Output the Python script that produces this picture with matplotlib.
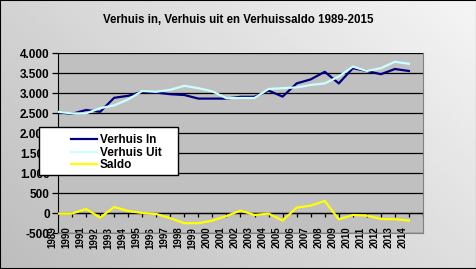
import numpy as np
import matplotlib
matplotlib.use("Agg")
import matplotlib.pyplot as plt
from matplotlib.ticker import FuncFormatter, MultipleLocator
from matplotlib.transforms import ScaledTranslation
from matplotlib.patches import Rectangle

years = [str(y) for y in range(1989, 2015)]
verhuis_in = [2520, 2480, 2575, 2530, 2880, 2930, 3030, 3010, 2970, 2950, 2860, 2860,
              2860, 2905, 2905, 3060, 2910, 3240, 3340, 3530, 3240, 3620, 3550, 3470,
              3600, 3550]
verhuis_uit = [2530, 2490, 2490, 2620, 2690, 2840, 3050, 3030, 3080, 3180, 3120, 3040,
               2870, 2875, 2875, 3100, 3120, 3140, 3200, 3240, 3410, 3660, 3550, 3620,
               3780, 3730]
saldo = [-15, -15, 100, -115, 150, 50, 0, -25, -130, -255, -255, -190, -75, 60, -50,
         -15, -190, 135, 185, 300, -160, -50, -65, -150, -155, -190]

W, H = 477, 269
fig = plt.figure(figsize=(W / 100, H / 100), dpi=100)
plt.rcParams['font.family'] = ['Liberation Sans', 'DejaVu Sans']

# background gradient
bg = fig.add_axes([0, 0, 1, 1], zorder=-10)
yy, xx = np.mgrid[0:1:100j, 0:1:100j]
g = 0.74 + 0.22 * (xx * 0.6 + (1 - yy) * 0.4)
bg.imshow(g, cmap='gray', vmin=0, vmax=1, aspect='auto', extent=[0, 1, 0, 1], origin='upper')
bg.set_xlim(0, 1); bg.set_ylim(0, 1)
bg.axis('off')
fig.patches.append(Rectangle((0, 0), 1, 1, transform=fig.transFigure, fill=False,
                             edgecolor='black', linewidth=1.5))

ax = fig.add_axes([58 / W, 1 - 233 / H, 365 / W, 180 / H])
ax.set_facecolor('#C0C0C0')
x = np.arange(len(years))
ax.plot(x, verhuis_in, color='#000080', lw=1.6, label='Verhuis In', zorder=3)
ax.plot(x, verhuis_uit, color='#CCFFFF', lw=1.6, label='Verhuis Uit', zorder=3)
ax.plot(x, saldo, color='#FFFF00', lw=1.6, label='Saldo', zorder=3)

ax.set_xlim(0, len(years))
ax.set_ylim(-500, 4000)
ax.yaxis.set_major_locator(MultipleLocator(500))
ax.yaxis.set_major_formatter(FuncFormatter(lambda v, p: f"{int(v):,}".replace(",", ".")))
ax.grid(axis='y', color='black', lw=0.9)
ax.set_axisbelow(True)
for s in ['top', 'right', 'bottom']:
    ax.spines[s].set_color('#808080')
ax.spines['top'].set_visible(False)
ax.spines['left'].set_color('black')
ax.tick_params(axis='y', length=4, width=0.9, labelsize=8.5, pad=2)
for t in ax.get_yticklabels():
    t.set_fontweight('bold')

ax.set_xticks(x)
ax.set_xticklabels(years, rotation=90, fontsize=7, fontweight='bold')
ax.tick_params(axis='x', length=0, pad=-4.5)
off = ScaledTranslation(-6 / 100, 0, fig.dpi_scale_trans)
for t in ax.get_xticklabels():
    t.set_transform(t.get_transform() + off)
# category tick marks along zero line
ax.axhline(0, color='black', lw=0.9, zorder=2)
ax.vlines(np.arange(len(years) + 1), -100, 0, color='black', lw=0.9, zorder=2)

fig.text(0.5, 1 - 20 / H, 'Verhuis in, Verhuis uit en Verhuissaldo 1989-2015',
         ha='center', va='center', fontsize=8.3, fontweight='bold')

# legend box
fig.patches.append(Rectangle((39 / W, 1 - 175 / H), 139 / W, 48 / H, transform=fig.transFigure,
                             facecolor='white', edgecolor='black', lw=1, zorder=5))
handles, labels = ax.get_legend_handles_labels()
leg = fig.legend(handles, labels, loc='upper left', bbox_to_anchor=(63 / W, 1 - 126 / H),
                 frameon=False, prop={'size': 8.5, 'weight': 'bold'},
                 handlelength=2.2, handletextpad=0.2, labelspacing=0.05, borderpad=0.2)
leg.set_zorder(6)

fig.savefig('out.png', dpi=100)
